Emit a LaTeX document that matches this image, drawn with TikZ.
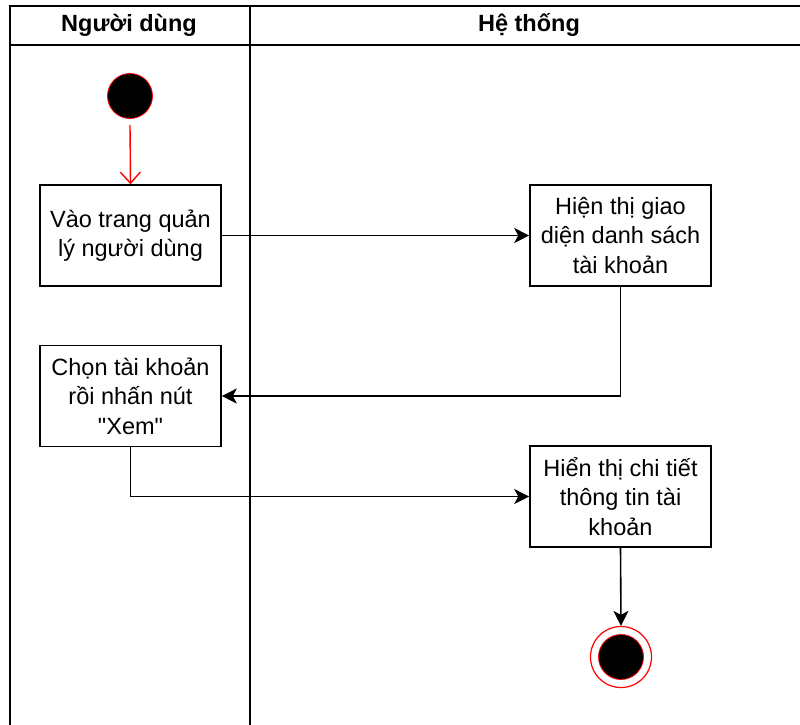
\documentclass[tikz,border=0pt]{standalone}
\usepackage{fontspec}
\setmainfont{Liberation Sans}[Ligatures=TeXOff]
\usetikzlibrary{arrows.meta}
\begin{document}
\begin{tikzpicture}[x=1pt,y=-1pt,
  lane/.style={draw=black,line width=1.8pt},
  actbox/.style={draw=black,line width=1.6pt,minimum width=181pt,minimum height=101pt,inner sep=0pt,
    align=center,font=\fontsize{23.5}{29.5}\selectfont},
  hdr/.style={font=\fontsize{23.5}{27}\selectfont\bfseries},
  flow/.style={draw=black,line width=1.6pt,-{Stealth[length=15pt,width=15pt,inset=4pt]}},
  startflow/.style={draw=red,line width=1.4pt,-{Straight Barb[length=11pt,width=20pt]}}]
\useasboundingbox (0,0) rectangle (800,724);
% swimlane frame
\draw[lane] (10,740) -- (10,6) -- (820,6);
\draw[lane] (10,45) -- (820,45);
\draw[lane] (250,6) -- (250,740);
\node[hdr] (h1) at (129,25) {Người dùng};
\node[hdr] (h2) at (529,25) {Hệ thống};
% nodes
\node[circle,fill=black,draw=red,line width=0.8pt,minimum size=45pt,inner sep=0pt] (start) at (130,96) {};
\node[actbox] (a1) at (130.5,235.5) {Vào trang quản\\lý người dùng};
\node[actbox] (a2) at (620.5,235.5) {Hiện thị giao\\diện danh sách\\tài khoản};
\node[actbox] (a3) at (130.5,396) {Chọn tài khoản\\rồi nhấn nút\\"Xem"};
\node[actbox] (a4) at (620.5,496.5) {Hiển thị chi tiết\\thông tin tài\\khoản};
\node[circle,draw=red,line width=1.2pt,fill=white,minimum size=61pt,inner sep=0pt] (end) at (621,657) {};
\node[circle,fill=black,draw=red,line width=0.8pt,minimum size=45pt,inner sep=0pt] (endin) at (621,657) {};
% connectors
\draw[startflow] (130,125) -- (a1.north);
\draw[flow] (a1.east) -- (a2.west);
\draw[flow] (a2.south) |- (a3.east);
\draw[flow] (a3.south) |- (a4.west);
\draw[flow] (a4.south) -- (end.north);
\end{tikzpicture}
\end{document}
